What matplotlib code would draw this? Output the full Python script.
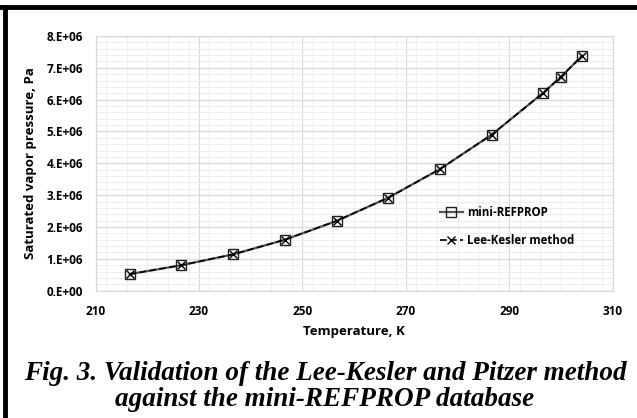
import numpy as np
import matplotlib
matplotlib.use("Agg")
from matplotlib import pyplot as plt
from matplotlib.ticker import MultipleLocator

# saturated vapor pressure of CO2
temperature = [216.6, 226.6, 236.6, 246.6, 256.6, 266.6, 276.6, 286.6, 296.6, 300.0, 304.1]
p_refprop = [0.52e6, 0.80e6, 1.14e6, 1.60e6, 2.19e6, 2.92e6, 3.82e6, 4.90e6, 6.22e6, 6.72e6, 7.38e6]
p_leekesler = [0.52e6, 0.80e6, 1.14e6, 1.60e6, 2.19e6, 2.92e6, 3.82e6, 4.90e6, 6.22e6, 6.72e6, 7.38e6]

x_ticks = [210, 230, 250, 270, 290, 310]
y_ticks = [0, 1e6, 2e6, 3e6, 4e6, 5e6, 6e6, 7e6, 8e6]
y_ticklabels = ["0.E+00", "1.E+06", "2.E+06", "3.E+06", "4.E+06",
                "5.E+06", "6.E+06", "7.E+06", "8.E+06"]

sans = "Open Sans"

fig = plt.figure(figsize=(6.37, 4.18), dpi=100)
ax = fig.add_axes([0.150, 0.3046, 0.812, 0.6094])

ax.plot(temperature, p_refprop, color="#555555", lw=1.6, marker="s", ms=6.5,
        mfc="none", mec="#222222", mew=1.0, label="mini-REFPROP", zorder=3)
ax.plot(temperature, p_leekesler, color="black", lw=1.2, ls=(0, (4, 2)), marker="x",
        ms=6, mec="black", mew=1.0, label="Lee-Kesler method", zorder=4)

ax.set_xlim(210, 310)
ax.set_ylim(0, 8e6)
ax.set_xticks(x_ticks)
ax.set_yticks(y_ticks)
ax.set_yticklabels(y_ticklabels)
ax.xaxis.set_minor_locator(MultipleLocator(4))
ax.yaxis.set_minor_locator(MultipleLocator(2e5))
ax.grid(which="major", color="#d9d9d9", lw=0.9)
ax.grid(which="minor", color="#eeeeee", lw=0.7)
ax.set_axisbelow(True)
ax.tick_params(which="both", length=0)
ax.tick_params(axis="y", pad=9)
ax.tick_params(axis="x", pad=10)
for s in ax.spines.values():
    s.set_color("#d9d9d9")
    s.set_linewidth(0.9)

for t in ax.get_xticklabels() + ax.get_yticklabels():
    t.set_fontfamily(sans)
    t.set_fontweight("bold")
    t.set_fontsize(8.5)

ax.set_xlabel("Temperature, K", fontfamily=sans, fontweight="bold", fontsize=9.5, labelpad=5)
ax.set_ylabel("Saturated vapor pressure, Pa", fontfamily=sans, fontweight="bold",
              fontsize=9.5, labelpad=7)

leg = ax.legend(loc="center left", bbox_to_anchor=(0.645, 0.252), frameon=False,
                prop={"family": sans, "weight": "bold", "size": 8.3},
                handlelength=2.0, labelspacing=1.3, handletextpad=0.4)

# page frame
fig.add_artist(plt.Line2D([0, 1], [1 - 7 / 418, 1 - 7 / 418], color="black", lw=3.5))
fig.add_artist(plt.Line2D([4.5 / 637, 4.5 / 637], [0, 1 - 7 / 418], color="black", lw=3.5))

fig.text(0.51, 1 - 373 / 418, "Fig. 3. Validation of the Lee-Kesler and Pitzer method",
         ha="center", va="center", family="Liberation Serif", weight="bold",
         style="italic", fontsize=19.5)
fig.text(0.51, 1 - 400 / 418, "against the mini-REFPROP database",
         ha="center", va="center", family="Liberation Serif", weight="bold",
         style="italic", fontsize=19.5)

fig.savefig("out.png", dpi=100)
